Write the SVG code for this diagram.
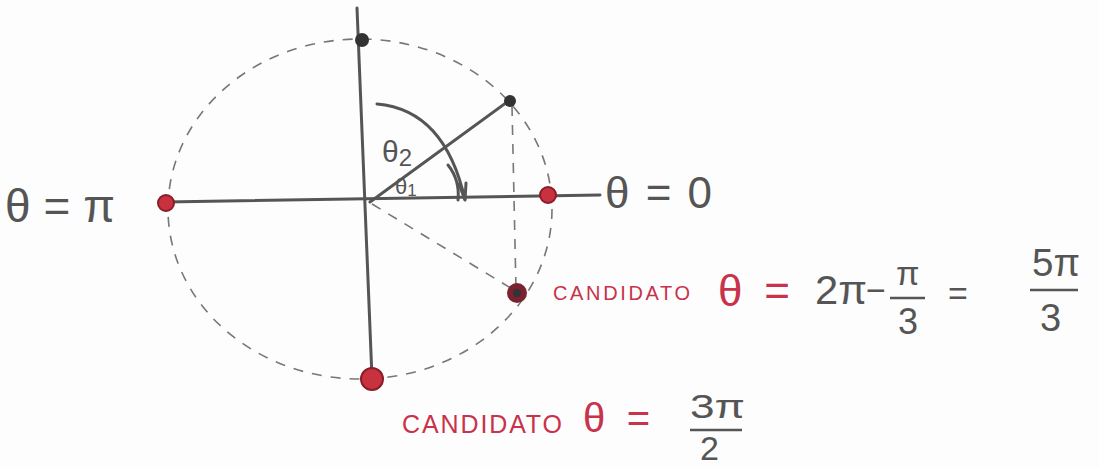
<svg xmlns="http://www.w3.org/2000/svg" width="1099" height="469" viewBox="0 0 1099 469">
<style>
.ax{stroke:#555;stroke-width:3;fill:none;stroke-linecap:round}
.dash{stroke:#777;stroke-width:1.6;fill:none;stroke-dasharray:10 9}
.t{font-family:"Liberation Sans",Arial,sans-serif;fill:#555}
.r{font-family:"Liberation Sans",Arial,sans-serif;fill:#c8324a}
.rp{fill:#c8323f;stroke:#8a1d2a;stroke-width:2}
.bar{stroke:#555;stroke-width:2.5}
</style>
<rect width="1099" height="469" fill="#fdfdfd"/>
<g id="connectors">
<ellipse class="dash" cx="360" cy="209" rx="192" ry="170"/>
<path class="ax" d="M357 8 L372 378"/>
<path class="ax" d="M165 202 L600 195"/>
<path class="ax" d="M370 202 L510 100"/>
<path class="dash" d="M512 106 L516 290"/>
<path class="dash" d="M372 204 L514 290"/>
<path class="ax" stroke-width="2.5" d="M377 104 Q445 110 465 200"/>
<path class="ax" stroke-width="2.2" d="M459 184 L465 200 L466 183"/>
<path class="ax" stroke-width="2.2" d="M448 165 Q460 180 458 200"/>
</g>
<g id="n_top"><circle cx="362" cy="40" r="7" fill="#333"/></g>
<g id="n_p"><circle cx="510" cy="101" r="6" fill="#333"/></g>
<g id="n_left"><circle class="rp" cx="166" cy="203" r="8"/></g>
<g id="n_right"><circle class="rp" cx="548" cy="195" r="8"/></g>
<g id="n_cand1"><circle cx="517" cy="293" r="10" fill="#7a2230"/><circle cx="517" cy="293" r="4" fill="#333"/></g>
<g id="n_bottom"><circle class="rp" cx="372" cy="379" r="11"/></g>
<g id="labels">
<text class="t" x="382" y="162" font-size="30">θ<tspan font-size="24" dy="4">2</tspan></text>
<text class="t" x="395" y="194" font-size="22">θ<tspan font-size="17" dy="2">1</tspan></text>
<text class="t" x="5" y="222" font-size="46" textLength="110" lengthAdjust="spacing">θ=π</text>
<text class="t" x="605" y="208" font-size="44" textLength="107" lengthAdjust="spacing">θ=0</text>
<text class="r" x="553" y="300" font-size="20" textLength="137" lengthAdjust="spacing">CANDIDATO</text>
<text class="r" x="718" y="306" font-size="44" textLength="72" lengthAdjust="spacing">θ=</text>
<text class="t" x="815" y="304" font-size="40" textLength="52" lengthAdjust="spacingAndGlyphs">2π</text>
<text class="t" x="866" y="302" font-size="34">−</text>
<text class="t" x="896" y="285" font-size="34">π</text>
<line class="bar" x1="890" y1="298" x2="925" y2="298"/>
<text class="t" x="898" y="334" font-size="36">3</text>
<text class="t" x="948" y="305" font-size="34">=</text>
<text class="t" x="1032" y="276" font-size="38" textLength="48" lengthAdjust="spacingAndGlyphs">5π</text>
<line class="bar" x1="1030" y1="290" x2="1078" y2="290"/>
<text class="t" x="1040" y="331" font-size="38">3</text>
<text class="r" x="402" y="433" font-size="25" textLength="160" lengthAdjust="spacing">CANDIDATO</text>
<text class="r" x="583" y="432" font-size="40" textLength="67" lengthAdjust="spacing">θ=</text>
<text class="t" x="690" y="418" font-size="34" textLength="55" lengthAdjust="spacingAndGlyphs">3π</text>
<line class="bar" x1="690" y1="430" x2="742" y2="430"/>
<text class="t" x="700" y="460" font-size="34">2</text>
</g>
</svg>
